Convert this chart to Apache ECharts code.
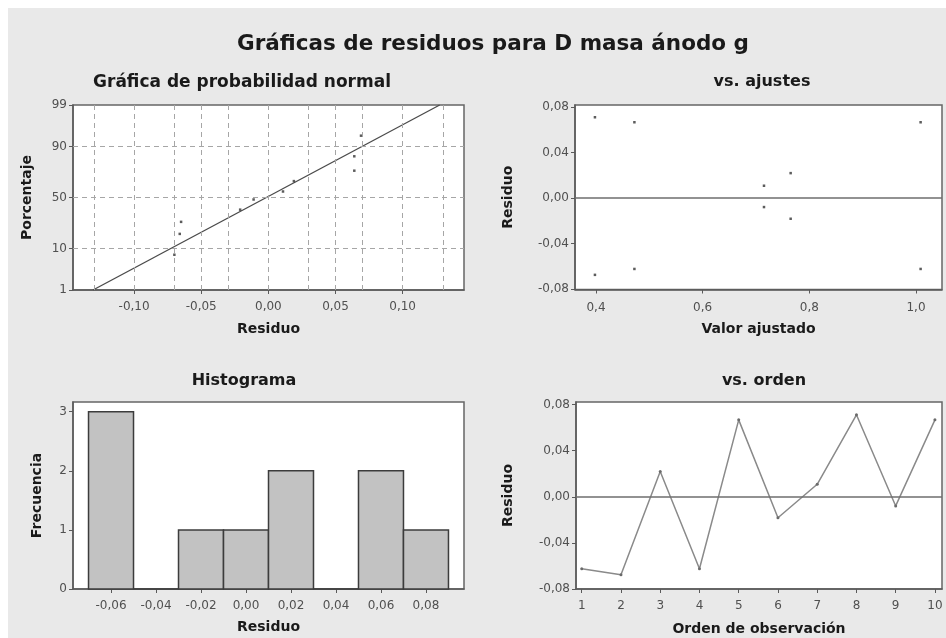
<!DOCTYPE html>
<html>
<head>
<meta charset="utf-8">
<script src="https://cdn.jsdelivr.net/npm/echarts@6/dist/echarts.min.js"></script>
<style>
html,body{margin:0;padding:0;background:#ffffff;}
#bg{position:absolute;left:8px;top:8px;width:938px;height:630px;background:#e9e9e9;}
#chart{position:absolute;left:0;top:0;width:946px;height:638px;}
</style>
</head>
<body>
<div id="bg"></div>
<div id="chart"></div>
<script>
// ---------- data ----------
const mainTitle = 'Gráficas de residuos para D masa ánodo g';
const panelTitles = ['Gráfica de probabilidad normal', 'vs. ajustes', 'Histograma', 'vs. orden'];

// residuals in observation order
const observation = [1, 2, 3, 4, 5, 6, 7, 8, 9, 10];
const residuals = [-0.0624, -0.0676, 0.0220, -0.0624, 0.0668, -0.0182, 0.0109, 0.0712, -0.0079, 0.0668];
const fittedValues = [0.472, 0.398, 0.765, 1.0087, 0.472, 0.765, 0.715, 0.398, 0.715, 1.0087];

// normal probability plot (sorted residuals and plotted percentages)
const probResiduals = [-0.0700, -0.0660, -0.0650, -0.0210, -0.0110, 0.0109, 0.0190, 0.0640, 0.0640, 0.0690];
const probPercent = [7.5, 18, 27, 38, 48, 56, 66, 75, 85, 94];
const fitLineResidual = [-0.1306, 0.1276];
const fitLinePercent = [1, 99];
const probTicks = [1, 10, 50, 90, 99];
const probGridPercent = [10, 50, 90];
const probGridResidual = [-0.125, -0.1, -0.075, -0.05, -0.025, 0, 0.025, 0.05, 0.075, 0.1, 0.125];
const probXTicks = [-0.10, -0.05, 0.00, 0.05, 0.10];

// histogram
const binCenters = [-0.06, -0.04, -0.02, 0.00, 0.02, 0.04, 0.06, 0.08];
const binCounts = [3, 0, 1, 1, 2, 0, 2, 1];
const binWidth = 0.02;
const histYTicks = [0, 1, 2, 3];

const fitXTicks = [0.4, 0.6, 0.8, 1.0];
const residTicks = [-0.08, -0.04, 0.00, 0.04, 0.08];

// ---------- helpers ----------
function probit(p) {
  const a=[-3.969683028665376e+01,2.209460984245205e+02,-2.759285104469687e+02,1.383577518672690e+02,-3.066479806614716e+01,2.506628277459239e+00];
  const b=[-5.447609879822406e+01,1.615858368580409e+02,-1.556989798598866e+02,6.680131188771972e+01,-1.328068155288572e+01];
  const c=[-7.784894002430293e-03,-3.223964580411365e-01,-2.400758277161838e+00,-2.549732539343734e+00,4.374664141464968e+00,2.938163982698783e+00];
  const d=[7.784695709041462e-03,3.224671290700398e-01,2.445134137142996e+00,3.754408661907416e+00];
  const pl=0.02425, ph=1-pl; let q,r;
  if (p < pl) { q=Math.sqrt(-2*Math.log(p)); return (((((c[0]*q+c[1])*q+c[2])*q+c[3])*q+c[4])*q+c[5])/((((d[0]*q+d[1])*q+d[2])*q+d[3])*q+1); }
  if (p <= ph) { q=p-0.5; r=q*q; return (((((a[0]*r+a[1])*r+a[2])*r+a[3])*r+a[4])*r+a[5])*q/(((((b[0]*r+b[1])*r+b[2])*r+b[3])*r+b[4])*r+1); }
  q=Math.sqrt(-2*Math.log(1-p)); return -(((((c[0]*q+c[1])*q+c[2])*q+c[3])*q+c[4])*q+c[5])/((((d[0]*q+d[1])*q+d[2])*q+d[3])*q+1);
}
const z = pct => probit(pct / 100);
const zTicks = probTicks.map(z);
const comma = (v, dec) => v.toFixed(dec).replace('.', ',');

const FONT = 'DejaVu Sans';
const labelStyle = { fontFamily: FONT, fontSize: 12, color: '#505050' };
const nameStyle = { fontFamily: FONT, fontSize: 14, fontWeight: 'bold', color: '#1a1a1a' };
const axisLineStyle = { show: true, onZero: false, lineStyle: { color: '#5a5a5a', width: 1.5 } };
const tickStyle = { show: true, length: 4, inside: false, lineStyle: { color: '#5a5a5a', width: 1 } };

function xAxis(gridIndex, min, max, ticks, fmt, name, nameGap, margin) {
  return {
    type: 'value', gridIndex, min, max,
    name, nameLocation: 'middle', nameGap, nameTextStyle: nameStyle,
    axisLine: axisLineStyle,
    axisTick: Object.assign({}, tickStyle, { customValues: ticks }),
    axisLabel: Object.assign({}, labelStyle, { customValues: ticks, formatter: fmt, margin }),
    splitLine: { show: false }
  };
}
function yAxis(gridIndex, min, max, ticks, fmt, name, nameGap) {
  return {
    type: 'value', gridIndex, min, max,
    name, nameLocation: 'middle', nameGap, nameTextStyle: nameStyle,
    axisLine: axisLineStyle,
    axisTick: Object.assign({}, tickStyle, { customValues: ticks }),
    axisLabel: Object.assign({}, labelStyle, { customValues: ticks, formatter: fmt, margin: 6 }),
    splitLine: { show: false }
  };
}

const gridBase = { show: true, backgroundColor: '#ffffff', borderColor: '#666666', borderWidth: 1.5, containLabel: false };
const grids = [
  Object.assign({ left: 73, top: 105, width: 391, height: 185 }, gridBase),
  Object.assign({ left: 575, top: 105, width: 367, height: 184.5 }, gridBase),
  Object.assign({ left: 73, top: 402, width: 391, height: 187 }, gridBase),
  Object.assign({ left: 576, top: 402, width: 366, height: 187 }, gridBase)
];

const titleStyle = { fontFamily: FONT, fontSize: 16, fontWeight: 'bold', color: '#1a1a1a' };
const titles = [
  { text: mainTitle, left: 488, top: 28, textAlign: 'center', textStyle: { fontFamily: FONT, fontSize: 21.5, fontWeight: 'bold', color: '#1a1a1a' } },
  { text: panelTitles[0], left: 237, top: 69, textAlign: 'center', textStyle: Object.assign({}, titleStyle, { fontSize: 17 }) },
  { text: panelTitles[1], left: 757, top: 69, textAlign: 'center', textStyle: titleStyle },
  { text: panelTitles[2], left: 239, top: 368, textAlign: 'center', textStyle: titleStyle },
  { text: panelTitles[3], left: 759, top: 368, textAlign: 'center', textStyle: titleStyle }
];

const resFmt = v => comma(v, 2);

const option = {
  animation: false,
  backgroundColor: 'transparent',
  title: titles,
  grid: grids,
  xAxis: [
    xAxis(0, -0.1455, 0.1457, probXTicks, resFmt, 'Residuo', 32, 11),
    xAxis(1, 0.3606, 1.0488, fitXTicks, v => comma(v, 1), 'Valor ajustado', 33, 12),
    xAxis(2, -0.0769, 0.0969, binCenters, resFmt, 'Residuo', 31, 11),
    xAxis(3, 0.854, 10.18, observation, v => String(v), 'Orden de observación', 33, 11)
  ],
  yAxis: [
    yAxis(0, zTicks[0], zTicks[zTicks.length - 1], zTicks, v => {
      for (let i = 0; i < zTicks.length; i++) if (Math.abs(v - zTicks[i]) < 1e-6) return String(probTicks[i]);
      return '';
    }, 'Porcentaje', 39),
    yAxis(1, -0.0805, 0.082, residTicks, resFmt, 'Residuo', 60),
    yAxis(2, 0, 3.164, histYTicks, v => String(v), 'Frecuencia', 29),
    yAxis(3, -0.08, 0.0823, residTicks, resFmt, 'Residuo', 61)
  ],
  series: [
    // normal probability plot: fitted line
    {
      type: 'line', xAxisIndex: 0, yAxisIndex: 0, symbol: 'none',
      data: fitLineResidual.map((x, i) => [x, z(fitLinePercent[i])]),
      lineStyle: { color: '#4a4a4a', width: 1.3 }, z: 3,
      markLine: {
        silent: true, symbol: ['none', 'none'], label: { show: false },
        lineStyle: { type: [5, 4], color: '#a6a6a6', width: 1 },
        data: probGridResidual.map(v => ({ xAxis: v })).concat(probGridPercent.map(p => ({ yAxis: z(p) })))
      }
    },
    {
      type: 'scatter', xAxisIndex: 0, yAxisIndex: 0, symbol: 'rect', symbolSize: 2.5,
      itemStyle: { color: '#333333' }, z: 4,
      data: probResiduals.map((x, i) => [x, z(probPercent[i])])
    },
    // vs. fits
    {
      type: 'scatter', xAxisIndex: 1, yAxisIndex: 1, symbol: 'rect', symbolSize: 2.5,
      itemStyle: { color: '#333333' },
      data: fittedValues.map((f, i) => [f, residuals[i]]),
      markLine: {
        silent: true, symbol: ['none', 'none'], label: { show: false },
        lineStyle: { type: 'solid', color: '#6e6e6e', width: 1.6 },
        data: [{ yAxis: 0 }]
      }
    },
    // histogram
    {
      type: 'custom', xAxisIndex: 2, yAxisIndex: 2,
      data: binCenters.map((c, i) => [c - binWidth / 2, c + binWidth / 2, binCounts[i]]),
      encode: { x: [0, 1], y: 2 },
      renderItem: function (params, api) {
        const s = api.coord([api.value(0), 0]);
        const e = api.coord([api.value(1), api.value(2)]);
        return {
          type: 'rect',
          shape: { x: s[0], y: e[1], width: e[0] - s[0], height: s[1] - e[1] },
          style: { fill: '#c2c2c2', stroke: '#3c3c3c', lineWidth: 1.5 }
        };
      }
    },
    // vs. order
    {
      type: 'line', xAxisIndex: 3, yAxisIndex: 3, symbol: 'circle', symbolSize: 3,
      itemStyle: { color: '#6a6a6a' },
      lineStyle: { color: '#8a8a8a', width: 1.5 },
      data: observation.map((o, i) => [o, residuals[i]]),
      markLine: {
        silent: true, symbol: ['none', 'none'], label: { show: false },
        lineStyle: { type: 'solid', color: '#6e6e6e', width: 1.6 },
        data: [{ yAxis: 0 }]
      }
    }
  ]
};

const chart = echarts.init(document.getElementById('chart'), null, { renderer: 'canvas' });
chart.setOption(option);
</script>
</body>
</html>
